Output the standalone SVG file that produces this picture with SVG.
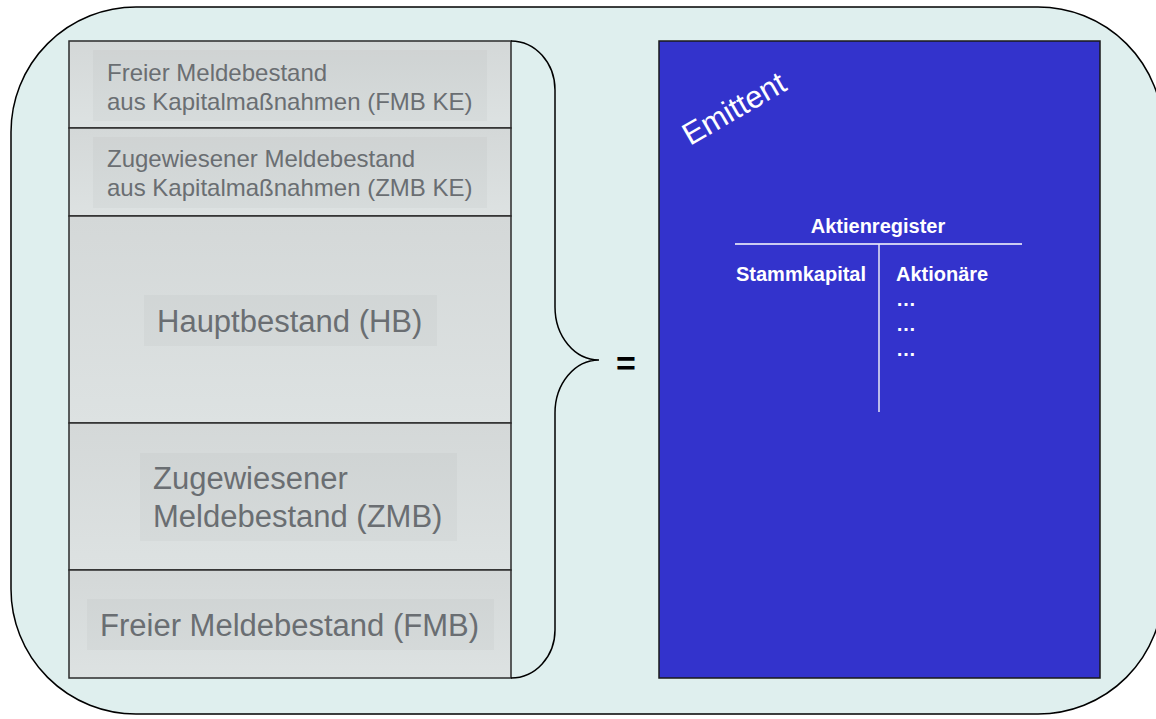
<svg xmlns="http://www.w3.org/2000/svg" width="1156" height="719" viewBox="0 0 1156 719">
  <defs>
    <linearGradient id="cellGrad" x1="0" y1="0" x2="0" y2="1">
      <stop offset="0" stop-color="#D4D8D8"/>
      <stop offset="1" stop-color="#DDE2E2"/>
    </linearGradient>
    <style>
      .cell { fill: url(#cellGrad); stroke: #2b2b2b; stroke-width: 1.5; }
      .lblbg { fill: #000000; fill-opacity: 0.025; }
      .lbl { font-family: "Liberation Sans", Arial, sans-serif; fill: #6A6E72; }
      .s { font-size: 24px; }
      .b { font-size: 31px; }
      .w { font-family: "Liberation Sans", Arial, sans-serif; fill: #FFFFFF; font-weight: bold; font-size: 20px; }
    </style>
  </defs>

  <g id="background">
    <rect x="11" y="7" width="1152" height="707" rx="125" ry="125" fill="#DFEFEE" stroke="#000000" stroke-width="1.5"/>
  </g>

  <g id="stack">
    <g id="fmb-ke">
      <rect class="cell" x="69" y="41" width="442" height="87"/>
      <rect class="lblbg" x="93" y="50" width="394" height="71"/>
      <text class="lbl s" x="107" y="81">Freier Meldebestand</text>
      <text class="lbl s" x="107" y="110">aus Kapitalmaßnahmen (FMB KE)</text>
    </g>
    <g id="zmb-ke">
      <rect class="cell" x="69" y="128" width="442" height="88"/>
      <rect class="lblbg" x="93" y="137" width="394" height="71"/>
      <text class="lbl s" x="107" y="167">Zugewiesener Meldebestand</text>
      <text class="lbl s" x="107" y="196">aus Kapitalmaßnahmen (ZMB KE)</text>
    </g>
    <g id="hb">
      <rect class="cell" x="69" y="216" width="442" height="207"/>
      <rect class="lblbg" x="144" y="295" width="293" height="51"/>
      <text class="lbl b" x="157" y="332">Hauptbestand (HB)</text>
    </g>
    <g id="zmb">
      <rect class="cell" x="69" y="423" width="442" height="147"/>
      <rect class="lblbg" x="140" y="453" width="317" height="88"/>
      <text class="lbl b" x="153" y="489">Zugewiesener</text>
      <text class="lbl b" x="153" y="527">Meldebestand (ZMB)</text>
    </g>
    <g id="fmb">
      <rect class="cell" x="69" y="570" width="442" height="108"/>
      <rect class="lblbg" x="87" y="599" width="407" height="51"/>
      <text class="lbl b" x="100" y="636">Freier Meldebestand (FMB)</text>
    </g>
  </g>

  <g id="connectors">
    <path d="M511,41 A44,49 0 0 1 555,90 L555,307 A44,53 0 0 0 599,360 A44,53 0 0 0 555,413 L555,630 A44,48 0 0 1 511,678" fill="none" stroke="#000000" stroke-width="1.5"/>
    <text x="626" y="375" text-anchor="middle" font-family="Liberation Sans, Arial, sans-serif" font-weight="bold" font-size="34" fill="#000000">=</text>
  </g>

  <g id="emittent">
    <rect x="659" y="41" width="441" height="637" fill="#3333CC" stroke="#1a1a1a" stroke-width="1.5"/>
    <text x="690" y="146" transform="rotate(-30 690 146)" font-family="Liberation Sans, Arial, sans-serif" font-size="31" fill="#FFFFFF">Emittent</text>
    <g id="aktienregister">
      <text class="w" x="878" y="233" text-anchor="middle">Aktienregister</text>
      <line x1="735" y1="244" x2="1022" y2="244" stroke="#FFFFFF" stroke-width="1.5"/>
      <line x1="879" y1="244" x2="879" y2="412" stroke="#E8E8F4" stroke-width="1.5"/>
      <text class="w" x="736" y="281">Stammkapital</text>
      <text class="w" x="896" y="281">Aktionäre</text>
      <text class="w" x="896" y="306">…</text>
      <text class="w" x="896" y="331">…</text>
      <text class="w" x="896" y="356">…</text>
    </g>
  </g>
</svg>
